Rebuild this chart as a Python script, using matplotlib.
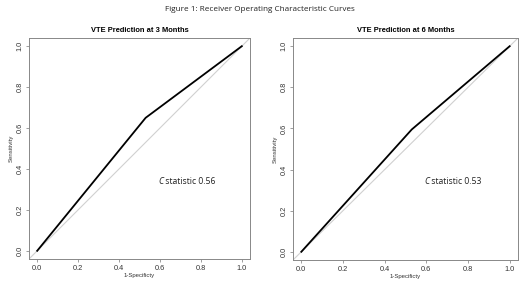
import matplotlib
matplotlib.use("Agg")
import matplotlib.pyplot as plt
from matplotlib.transforms import offset_copy

# ROC data
titles = ["VTE Prediction at 3 Months", "VTE Prediction at 6 Months"]
fpr_3m = [0.0, 0.53, 1.0]
tpr_3m = [0.0, 0.65, 1.0]
fpr_6m = [0.0, 0.53, 1.0]
tpr_6m = [0.0, 0.595, 1.0]
c_stats = ["0.56", "0.53"]
ticks = [0.0, 0.2, 0.4, 0.6, 0.8, 1.0]

fig = plt.figure(figsize=(5.2, 2.84), dpi=100)
fig.text(0.5, 0.965, "Figure 1: Receiver Operating Characteristic Curves",
         ha="center", va="center", fontsize=5.9, family="Open Sans", color="#222222")

boxes = [[29 / 520, 1 - 259 / 284, 221 / 520, 221 / 284],
         [293 / 520, 1 - 260 / 284, 225 / 520, 222 / 284]]
curves = [(fpr_3m, tpr_3m), (fpr_6m, tpr_6m)]

fig.canvas.draw()
renderer = fig.canvas.get_renderer()

for box, title, (fpr, tpr), cs in zip(boxes, titles, curves, c_stats):
    ax = fig.add_axes(box)
    ax.axline((0, 0), (1, 1), color="#d0d0d0", lw=0.8)
    ax.plot(fpr, tpr, color="black", lw=1.3)
    ax.set_xlim(-0.04, 1.04)
    ax.set_ylim(-0.04, 1.04)
    ax.set_xticks(ticks)
    ax.set_yticks(ticks)
    ax.set_xticklabels([f"{t:.1f}" for t in ticks], fontsize=5.3, family="Liberation Sans", color="#333333")
    ax.set_yticklabels([f"{t:.1f}" for t in ticks], fontsize=5.3, family="Liberation Sans",
                       color="#333333", rotation=90, va="center")
    ax.tick_params(length=2, width=0.5, color="#777777", pad=2)
    for s in ax.spines.values():
        s.set_color("#888888")
        s.set_linewidth(0.7)
    ax.set_xlabel("1-Specificty", fontsize=4.3, family="Liberation Sans", labelpad=1, color="#333333")
    ax.set_ylabel("Sensitivity", fontsize=4.3, family="Liberation Sans", labelpad=2, color="#333333")
    ax.set_title(title, fontsize=5.4, fontweight="bold", family="Liberation Sans", pad=4)
    c = ax.text(0.59, 0.34, "C", fontsize=6.2, family="Open Sans", style="italic",
                va="center", color="#222222")
    w = c.get_window_extent(renderer).width
    ax.text(0.59, 0.34, " statistic " + cs, fontsize=6.2, family="Open Sans", va="center",
            color="#222222", transform=offset_copy(ax.transData, fig=fig, x=w * 72 / fig.dpi, units="points"))

fig.savefig("out.png", dpi=100)
